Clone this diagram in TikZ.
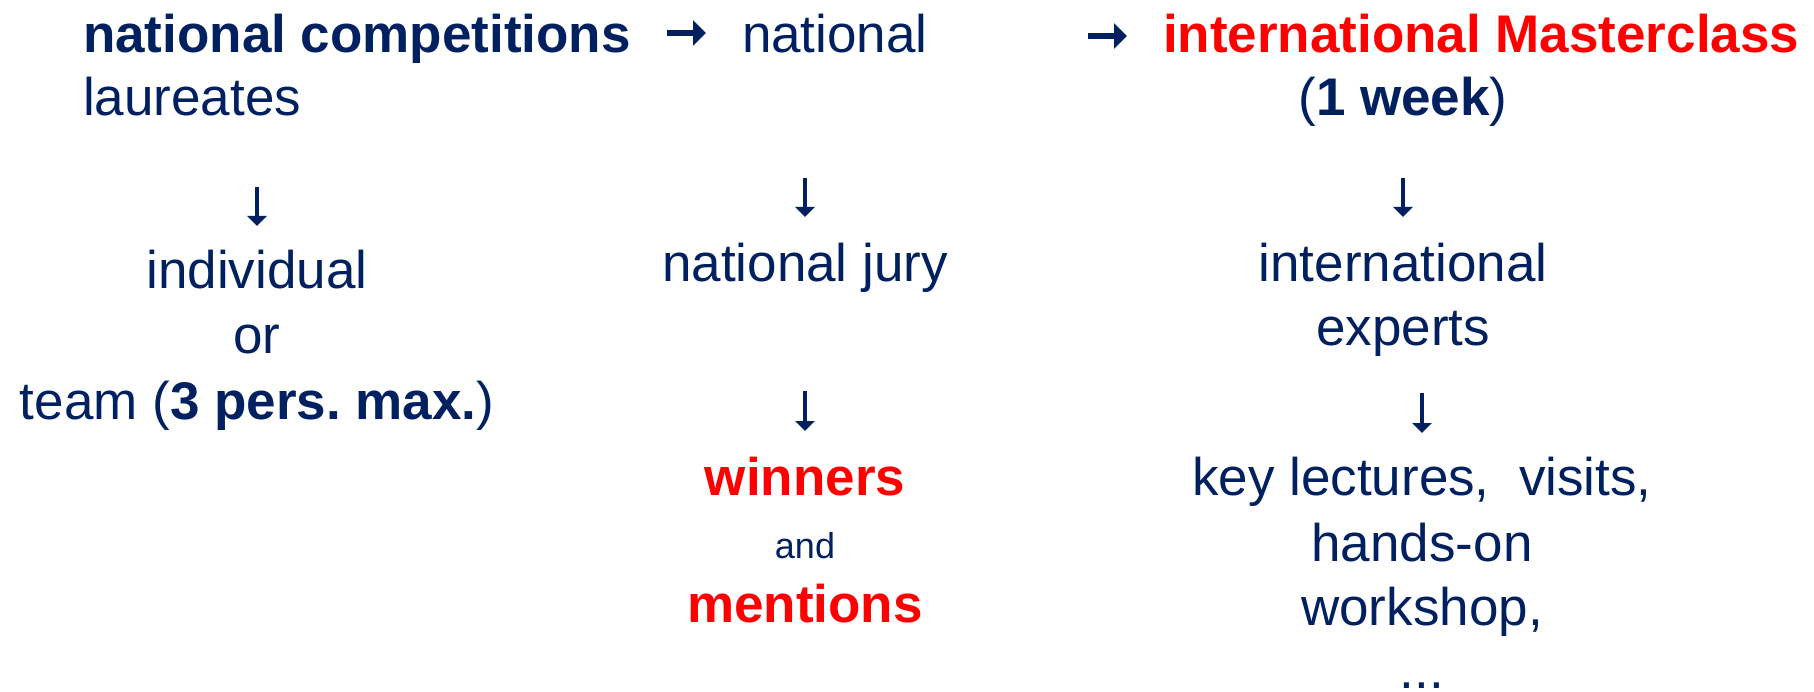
\documentclass[tikz,border=0pt]{standalone}
\usepackage{fontspec}
\setmainfont{Liberation Sans}
\usetikzlibrary{arrows.meta}
\definecolor{navy}{HTML}{002060}
\definecolor{hot}{HTML}{FF0000}
\frenchspacing
\begin{document}
\begin{tikzpicture}[x=1pt,y=-1pt,
  txt/.style={inner sep=0pt,outer sep=0pt,text=navy,font=\fontsize{53}{64}\selectfont},
  redtxt/.style={txt,text=hot,font=\fontsize{53}{64}\selectfont\bfseries},
  smalltxt/.style={txt,font=\fontsize{36}{44}\selectfont},
  downarr/.style={draw=navy,line width=3.6pt,-{Triangle[width=19pt,length=10pt]},fill=navy},
  rightarr/.style={draw=navy,line width=5.5pt,-{Triangle[width=25pt,length=13pt]},fill=navy}]
\useasboundingbox (0,0) rectangle (1814,692);
% row 1
\node[txt,anchor=base west] (nc) at (83,53) {\bfseries national competitions};
\node[txt,anchor=base west] (nat) at (742,53) {national};
\node[redtxt,anchor=base west] (im) at (1163,53) {international Masterclass};
\node[txt,anchor=base west] (lau) at (83,116) {laureates};
\node[txt,anchor=base] (wk) at (1403,116) {(\textbf{1 week})};
\coordinate (r1s) at (667,33); \coordinate (r1e) at (706,33);
\coordinate (r2s) at (1088,36); \coordinate (r2e) at (1127,36);
\draw[rightarr] (r1s) -- (r1e);
\draw[rightarr] (r2s) -- (r2e);
% column 1
\coordinate (d1s) at (257,187); \coordinate (d1e) at (257,226);
\draw[downarr] (d1s) -- (d1e);
\node[txt,anchor=base] (ind) at (257,289) {individual};
\node[txt,anchor=base] (or) at (257,353) {or};
\node[txt,anchor=base] (team) at (257,419) {team (\textbf{3 pers. max.})};
% column 2
\coordinate (d2s) at (805,178); \coordinate (d2e) at (805,217);
\draw[downarr] (d2s) -- (d2e);
\node[txt,anchor=base] (jury) at (805,282) {national jury};
\coordinate (d3s) at (805,391); \coordinate (d3e) at (805,431);
\draw[downarr] (d3s) -- (d3e);
\node[redtxt,anchor=base] (win) at (805,495) {winners};
\node[smalltxt,anchor=base] (and) at (805,558) {and};
\node[redtxt,anchor=base] (men) at (805,622) {mentions};
% column 3
\coordinate (d4s) at (1403,178); \coordinate (d4e) at (1403,217);
\draw[downarr] (d4s) -- (d4e);
\node[txt,anchor=base] (intl) at (1403,282) {international};
\node[txt,anchor=base] (exp) at (1403,345) {experts};
\coordinate (d5s) at (1422,393); \coordinate (d5e) at (1422,433);
\draw[downarr] (d5s) -- (d5e);
\node[txt,anchor=base] (key) at (1422,495) {key lectures,\ \ visits,};
\node[txt,anchor=base] (hands) at (1422,561) {hands-on};
\node[txt,anchor=base] (work) at (1422,625) {workshop,};
\node[txt,anchor=base] (dots) at (1422,688) {...};
\end{tikzpicture}
\end{document}
